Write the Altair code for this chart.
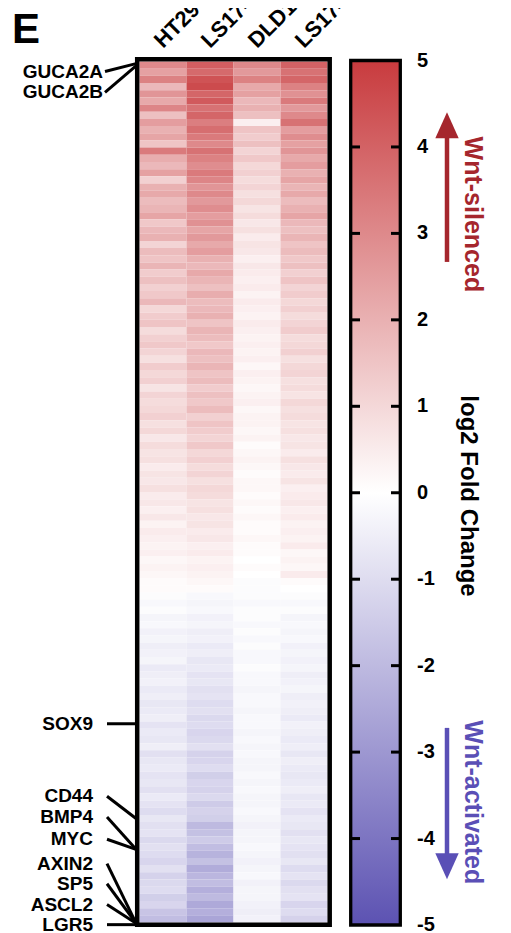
import altair as alt
import pandas as pd

# ---------------- data ----------------
columns = ["HT29 (shCTNNB1)", "LS174T (shCTNNB1)", "DLD1 (shCTNNB1)", "LS174T (dnTCF4)"]

ht29 = [
    3.0, 2.4, 3.2, 1.8, 2.7, 2.2, 3.1, 1.6, 2.5, 2.0,
    2.3, 1.5, 3.4, 2.1, 1.8, 2.4, 1.2, 2.0, 2.2, 1.7,
    1.9, 2.3, 1.4, 1.8, 2.0, 1.1, 1.7, 1.5, 1.9, 1.3,
    1.6, 1.2, 1.4, 1.8, 1.0, 1.3, 1.5, 0.9, 1.2, 1.4,
    1.1, 0.8, 1.3, 1.0, 1.2, 0.7, 1.1, 0.9, 1.0, 1.2,
    0.8, 1.0, 0.6, 0.9, 0.7, 0.8, 0.5, 0.7, 0.6, 0.8,
    0.5, 0.6, 0.4, 0.6, 0.3, 0.5, 0.4, 0.3, 0.4, 0.2,
    0.3, 0.2, 0.1, 0.1, -0.1, -0.2, -0.1, -0.3, -0.2, -0.4,
    -0.3, -0.5, -0.4, -0.3, -0.6, -0.5, -0.4, -0.6, -0.5, -0.7,
    -0.6, -0.5, -0.8, -0.6, -0.7, -0.5, -0.9, -0.7, -0.6, -0.8,
    -0.7, -0.9, -0.6, -0.8, -1.0, -0.7, -0.9, -0.8, -1.1, -0.9,
    -1.0, -1.2, -0.9, -1.3, -1.1, -1.0, -1.4, -1.2, -1.7, -1.9,
]
ls174t_sh = [
    4.1, 3.8, 4.4, 4.6, 3.9, 4.2, 3.6, 3.9, 3.3, 3.7,
    3.4, 3.0, 3.6, 3.2, 2.9, 3.4, 3.1, 2.7, 3.0, 2.6,
    2.9, 2.5, 2.8, 2.3, 2.6, 2.2, 2.5, 2.0, 1.8, 2.2,
    1.9, 1.6, 2.1, 1.7, 1.8, 2.0, 1.5, 1.9, 1.7, 1.4,
    1.8, 1.6, 1.9, 1.5, 1.7, 1.3, 1.6, 1.4, 1.7, 1.2,
    1.5, 1.3, 1.1, 1.4, 1.0, 1.2, 0.9, 1.1, 0.8, 1.0,
    0.9, 0.7, 0.8, 0.6, 0.7, 0.5, 0.6, 0.4, 0.5, 0.3,
    0.4, 0.3, 0.2, 0.1, -0.2, -0.3, -0.2, -0.4, -0.3, -0.5,
    -0.4, -0.6, -0.5, -0.7, -0.6, -0.8, -0.7, -0.9, -0.8, -1.0,
    -0.9, -1.1, -1.0, -1.2, -1.1, -0.9, -1.3, -1.2, -1.0, -1.4,
    -1.2, -1.3, -1.1, -1.5, -1.3, -1.4, -2.0, -1.8, -1.5, -1.9,
    -2.2, -1.8, -2.4, -2.1, -1.9, -2.3, -2.0, -2.5, -2.3, -2.6,
]
dld1 = [
    3.0, 2.6, 3.2, 2.2, 2.4, 1.8, 2.0, 1.6, 0.4, 1.5,
    1.3, 1.6, 1.1, 1.4, 1.0, 1.2, 0.9, 1.1, 0.8, 1.0,
    0.7, 0.9, 0.6, 0.8, 0.5, 0.7, 0.6, 0.4, 0.6, 0.5,
    0.4, 0.5, 0.3, 0.5, 0.4, 0.3, 0.5, 0.4, 0.3, 0.4,
    0.3, 0.4, 0.2, 0.4, 0.3, 0.2, 0.3, 0.4, 0.2, 0.3,
    0.3, 0.2, 0.3, 0.1, 0.2, 0.3, 0.2, 0.1, 0.2, 0.2,
    0.1, 0.2, 0.1, 0.2, 0.1, 0.1, 0.2, 0.1, 0.1, 0.0,
    0.1, 0.0, -0.1, -0.1, -0.1, -0.2, -0.1, -0.1, -0.2, -0.1,
    -0.2, -0.1, -0.2, -0.2, -0.1, -0.2, -0.2, -0.3, -0.2, -0.2,
    -0.3, -0.2, -0.2, -0.3, -0.2, -0.3, -0.2, -0.3, -0.3, -0.2,
    -0.3, -0.2, -0.3, -0.3, -0.2, -0.3, -0.4, -0.3, -0.3, -0.2,
    -0.3, -0.4, -0.3, -0.2, -0.4, -0.3, -0.3, -0.4, -0.5, -0.4,
]
ls174t_dn = [
    4.0, 3.6, 3.9, 3.2, 2.8, 3.4, 2.6, 3.0, 3.6, 2.5,
    2.9, 2.4, 2.7, 2.2, 2.5, 2.0, 2.3, 1.9, 2.2, 1.7,
    2.0, 2.3, 1.8, 1.6, 1.9, 1.5, 1.7, 1.4, 1.6, 1.2,
    1.5, 1.1, 1.3, 1.0, 1.2, 0.9, 1.1, 1.3, 0.9, 1.0,
    1.2, 0.8, 1.0, 1.1, 0.8, 0.9, 0.7, 1.0, 0.8, 0.9,
    0.7, 0.8, 0.6, 0.7, 0.5, 0.8, 0.6, 0.5, 0.7, 0.4,
    0.5, 0.6, 0.4, 0.5, 0.3, 0.4, 0.3, 0.5, 0.2, 0.3,
    0.2, 0.5, 0.1, 0.0, -0.1, -0.2, -0.1, -0.3, -0.2, -0.3,
    -0.2, -0.4, -0.3, -0.4, -0.3, -0.5, -0.4, -0.3, -0.5, -0.4,
    -0.5, -0.6, -0.4, -0.5, -0.6, -0.5, -0.7, -0.5, -0.6, -0.7,
    -0.6, -0.5, -0.7, -0.6, -0.8, -0.6, -0.7, -0.9, -0.7, -0.8,
    -0.9, -0.7, -1.0, -0.8, -1.1, -0.9, -0.8, -1.2, -1.0, -1.3,
]

# highlighted genes: label, row of the label, row where the leader line meets the heatmap
top_genes = ["GUCA2A", "GUCA2B"]
top_label_rows = [1.4, 4.3]
top_end_rows = [0.3, 0.6]
bottom_genes = ["SOX9", "CD44", "BMP4", "MYC", "AXIN2", "SP5", "ASCL2", "LGR5"]
bottom_label_rows = [92.3, 102.4, 105.3, 108.4, 111.8, 114.6, 117.5, 120.3]
bottom_end_rows = [92.3, 105.5, 109.8, 109.8, 120.1, 120.1, 120.1, 120.3]

colorbar_ticks = [5, 4, 3, 2, 1, 0, -1, -2, -3, -4, -5]

# ---------------- layout / style ----------------
W, H = 490, 925
N = len(ht29)
RED = "#c83b3e"
BLUE = "#5c52b2"
DARKRED = "#a5262d"
ARROWBLUE = "#5a4fb6"
FONT = "Liberation Sans"

series = [ht29, ls174t_sh, dld1, ls174t_dn]
records = []
for ci, vals in enumerate(series):
    for ri, v in enumerate(vals):
        records.append({"c0": ci, "c1": ci + 1, "r0": ri, "r1": ri + 1, "value": v})
df = pd.DataFrame(records)

cscale = alt.Scale(domain=[-5, 0, 5], range=[BLUE, "#ffffff", RED], interpolate="rgb")
xh = alt.Scale(domain=[0, 4], range=[131.5, 319.5], nice=False, zero=False)
yh = alt.Scale(domain=[0, N], range=[53.5, 914.5], nice=False, zero=False)
ycb = alt.Scale(domain=[-5, 5], range=[917, 52.5], nice=False, zero=False)

one = alt.Data(values=[{}])

heat = alt.Chart(df).mark_rect().encode(
    x=alt.X("c0:Q", scale=xh, axis=None), x2="c1:Q",
    y=alt.Y("r0:Q", scale=yh, axis=None), y2="r1:Q",
    color=alt.Color("value:Q", scale=cscale, legend=None),
)

heat_frame = alt.Chart(one).mark_rect(fill="white", fillOpacity=0, stroke="black", strokeWidth=4.5).encode(
    x=alt.value(129.2), x2=alt.value(321.7), y=alt.value(51.3), y2=alt.value(916.7)
)

col_df = pd.DataFrame({"name": columns, "cx": [i + 0.5 for i in range(len(columns))]})
col_labels = alt.Chart(col_df).mark_text(
    angle=315, align="left", baseline="alphabetic", font=FONT, fontWeight="bold", fontSize=22, color="black"
).encode(x=alt.X("cx:Q", scale=xh, axis=None), y=alt.value(41), text="name:N")

top_df = pd.DataFrame({"gene": top_genes, "ly": top_label_rows, "ey": top_end_rows})
bot_df = pd.DataFrame({"gene": bottom_genes, "ly": bottom_label_rows, "ey": bottom_end_rows})

top_text = alt.Chart(top_df).mark_text(
    align="right", baseline="middle", font=FONT, fontWeight="bold", fontSize=19, color="black"
).encode(x=alt.value(95), y=alt.Y("ly:Q", scale=yh, axis=None), text="gene:N")
top_lines = alt.Chart(top_df).mark_rule(strokeWidth=3, color="black").encode(
    x=alt.value(97), x2=alt.value(128),
    y=alt.Y("ly:Q", scale=yh, axis=None), y2="ey:Q",
)
bot_text = alt.Chart(bot_df).mark_text(
    align="right", baseline="middle", font=FONT, fontWeight="bold", fontSize=19, color="black"
).encode(x=alt.value(85), y=alt.Y("ly:Q", scale=yh, axis=None), text="gene:N")
bot_lines = alt.Chart(bot_df).mark_rule(strokeWidth=3, color="black").encode(
    x=alt.value(99), x2=alt.value(128),
    y=alt.Y("ly:Q", scale=yh, axis=None), y2="ey:Q",
)

# colour bar
cb_df = pd.DataFrame({"lo": [-5], "hi": [5]})
grad = alt.LinearGradient(
    gradient="linear",
    stops=[alt.GradientStop(color=BLUE, offset=0),
           alt.GradientStop(color="#ffffff", offset=0.5),
           alt.GradientStop(color=RED, offset=1)],
    x1=0, x2=0, y1=1, y2=0,
)
cbar = alt.Chart(cb_df).mark_rect(fill=grad).encode(
    x=alt.value(344), x2=alt.value(391),
    y=alt.Y("lo:Q", scale=ycb, axis=None), y2="hi:Q",
)
cbar_frame = alt.Chart(cb_df).mark_rect(fill="white", fillOpacity=0, stroke="black", strokeWidth=3.3).encode(
    x=alt.value(342.7), x2=alt.value(392.3),
    y=alt.Y("lo:Q", scale=ycb, axis=None), y2="hi:Q",
)
tick_df = pd.DataFrame({"v": colorbar_ticks, "label": [str(t) for t in colorbar_ticks]})
inner_ticks = tick_df[(tick_df.v > -5) & (tick_df.v < 5)]
ticks_l = alt.Chart(inner_ticks).mark_rule(strokeWidth=3, color="black").encode(
    x=alt.value(344), x2=alt.value(352), y=alt.Y("v:Q", scale=ycb, axis=None)
)
ticks_r = alt.Chart(inner_ticks).mark_rule(strokeWidth=3, color="black").encode(
    x=alt.value(383), x2=alt.value(391), y=alt.Y("v:Q", scale=ycb, axis=None)
)
tick_labels = alt.Chart(tick_df).mark_text(
    align="left", baseline="middle", font=FONT, fontWeight="bold", fontSize=20, color="black"
).encode(x=alt.value(409), y=alt.Y("v:Q", scale=ycb, axis=None), text="label:N")

cb_title = alt.Chart(one).mark_text(
    text="log2 Fold Change", angle=90, align="center", baseline="middle",
    font=FONT, fontWeight="bold", fontSize=24, color="black"
).encode(x=alt.value(459.5), y=alt.value(488))

# arrows
arr_df = pd.DataFrame({
    "name": ["Wnt-silenced", "Wnt-activated"],
    "s0": [2.67, -2.72], "s1": [4.12, -4.19], "head": [4.25, -4.32],
    "mid": [3.22, -3.58],
})
sil = arr_df.iloc[[0]]
act = arr_df.iloc[[1]]
sil_shaft = alt.Chart(sil).mark_rule(strokeWidth=4.5, color=DARKRED).encode(
    x=alt.value(439), y=alt.Y("s0:Q", scale=ycb, axis=None), y2="s1:Q")
act_shaft = alt.Chart(act).mark_rule(strokeWidth=4.5, color=ARROWBLUE).encode(
    x=alt.value(439), y=alt.Y("s0:Q", scale=ycb, axis=None), y2="s1:Q")
sil_head = alt.Chart(sil).mark_point(
    shape="M0,-1L-0.9,1L0.9,1Z", filled=True, size=676, color=DARKRED, opacity=1, strokeWidth=0
).encode(x=alt.value(439), y=alt.Y("head:Q", scale=ycb, axis=None))
act_head = alt.Chart(act).mark_point(
    shape="M0,1L-0.9,-1L0.9,-1Z", filled=True, size=676, color=ARROWBLUE, opacity=1, strokeWidth=0
).encode(x=alt.value(439), y=alt.Y("head:Q", scale=ycb, axis=None))
sil_text = alt.Chart(sil).mark_text(
    angle=90, align="center", baseline="middle", font=FONT, fontWeight="bold", fontSize=25, color=DARKRED
).encode(x=alt.value(464.5), y=alt.Y("mid:Q", scale=ycb, axis=None), text="name:N")
act_text = alt.Chart(act).mark_text(
    angle=90, align="center", baseline="middle", font=FONT, fontWeight="bold", fontSize=25, color=ARROWBLUE
).encode(x=alt.value(464.5), y=alt.Y("mid:Q", scale=ycb, axis=None), text="name:N")

panel = alt.Chart(one).mark_text(
    text="E", align="left", baseline="alphabetic", font=FONT, fontWeight="bold", fontSize=42, color="black"
).encode(x=alt.value(4), y=alt.value(35))

chart = alt.layer(
    heat, heat_frame, col_labels, top_lines, top_text, bot_lines, bot_text,
    cbar, ticks_l, ticks_r, cbar_frame, tick_labels, cb_title,
    sil_shaft, sil_head, act_shaft, act_head, sil_text, act_text, panel,
).resolve_scale(
    x="independent", y="independent"
).properties(
    width=W, height=H, autosize=alt.AutoSizeParams(type="none"), padding=0, background="white"
).configure_view(strokeWidth=0)

chart.save("out.html", embed_options={"renderer": "svg", "actions": False})
